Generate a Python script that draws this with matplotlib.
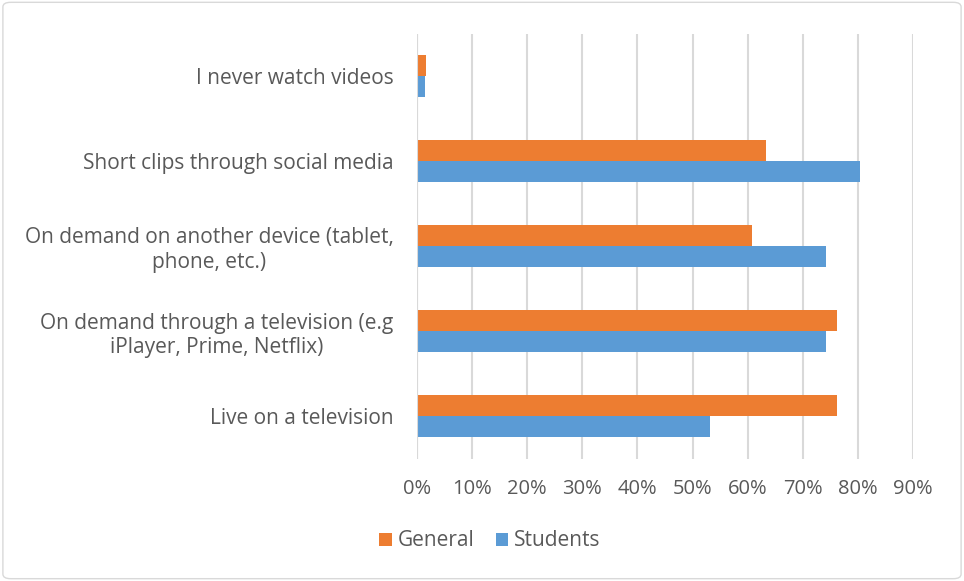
import matplotlib.pyplot as plt
from matplotlib.patches import FancyBboxPatch
import numpy as np

categories = [
    "Live on a television",
    "On demand through a television (e.g\niPlayer, Prime, Netflix)",
    "On demand on another device (tablet,\nphone, etc.)",
    "Short clips through social media",
    "I never watch videos",
]
general = [76.3, 76.3, 60.7, 63.3, 1.6]
students = [53.1, 74.3, 74.3, 80.3, 1.45]
ticks = list(range(0, 100, 10))

orange = "#ED7D31"
blue = "#5B9BD5"
text_col = "#595959"

plt.rcParams['font.family'] = ['Open Sans', 'DejaVu Sans']

fig = plt.figure(figsize=(9.64, 5.81), dpi=100)
ax = fig.add_axes([417 / 964, 1 - 458.5 / 581, (913 - 417) / 964, 425 / 581])

y = np.arange(len(categories))
h = 0.25
ax.barh(y - h / 2, students, height=h, color=blue, label="Students", zorder=3)
ax.barh(y + h / 2, general, height=h, color=orange, label="General", zorder=3)

ax.set_xlim(0, 90)
ax.set_ylim(-0.5, len(categories) - 0.5)
ax.set_xticks(ticks)
ax.set_xticklabels([f"{t}%" for t in ticks], color=text_col, fontsize=14.5)
ax.set_yticks(y)
ax.set_yticklabels(categories, color=text_col, fontsize=15, ha="right", multialignment="center")
ax.tick_params(axis="y", length=0, pad=17)
ax.tick_params(axis="x", length=0, pad=15)
ax.grid(axis="x", color="#D9D9D9", linewidth=1.5, zorder=0)
for s in ax.spines.values():
    s.set_visible(False)
ax.axvline(0, color="#D9D9D9", linewidth=1.5, zorder=4)

handles, labels = ax.get_legend_handles_labels()
fig.legend(handles[::-1], labels[::-1], loc="center", bbox_to_anchor=(490 / 964, 1 - 541 / 581),
           ncol=2, frameon=False, fontsize=15, labelcolor=text_col,
           handlelength=0.6, handleheight=0.6, handletextpad=0.3, columnspacing=1.0)

border = FancyBboxPatch((0.003, 0.004), 0.994, 0.992, boxstyle="round,pad=0,rounding_size=0.008",
                        transform=fig.transFigure, fill=False, edgecolor="#D9D9D9", linewidth=1)
fig.patches.append(border)

fig.savefig("out.png", dpi=100)
